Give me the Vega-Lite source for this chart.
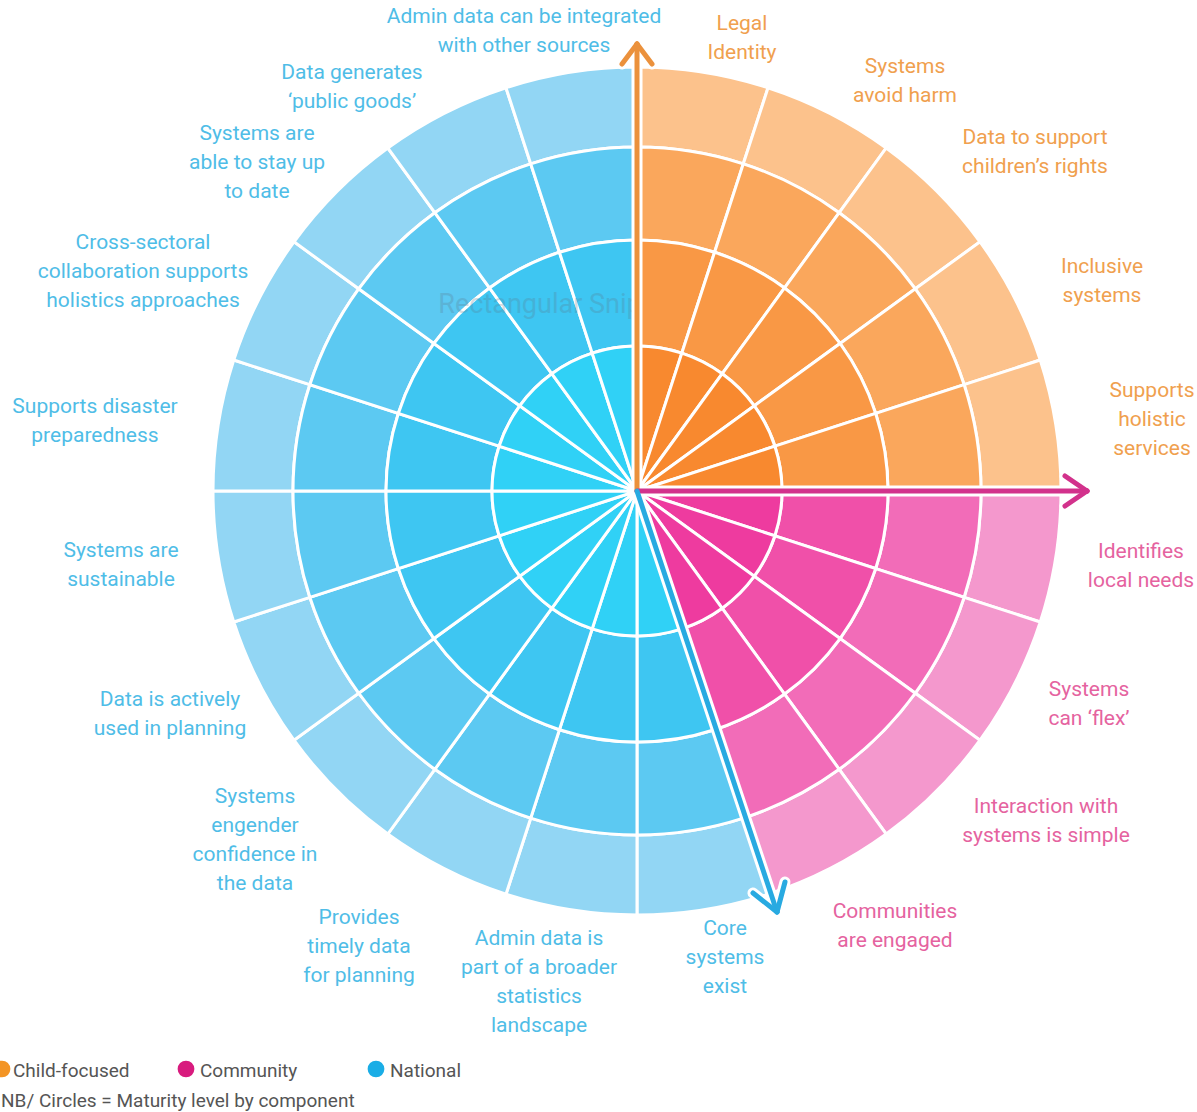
{
  "$schema": "https://vega.github.io/schema/vega-lite/v6.json",
  "width": 1120,
  "height": 982,
  "autosize": {"type": "none"},
  "padding": {"left": 77, "top": 0, "right": 0, "bottom": 130},
  "background": "white",
  "config": {"view": {"stroke": null}, "font": "Roboto"},
  "datasets": {
    "components": [
      {"k": 1, "component": "Legal Identity", "group": "Child-focused"},
      {"k": 2, "component": "Systems avoid harm", "group": "Child-focused"},
      {"k": 3, "component": "Data to support children’s rights", "group": "Child-focused"},
      {"k": 4, "component": "Inclusive systems", "group": "Child-focused"},
      {"k": 5, "component": "Supports holistic services", "group": "Child-focused"},
      {"k": 6, "component": "Identifies local needs", "group": "Community"},
      {"k": 7, "component": "Systems can ‘flex’", "group": "Community"},
      {"k": 8, "component": "Interaction with systems is simple", "group": "Community"},
      {"k": 9, "component": "Communities are engaged", "group": "Community"},
      {"k": 10, "component": "Core systems exist", "group": "National"},
      {"k": 11, "component": "Admin data is part of a broader statistics landscape", "group": "National"},
      {"k": 12, "component": "Provides timely data for planning", "group": "National"},
      {"k": 13, "component": "Systems engender confidence in the data", "group": "National"},
      {"k": 14, "component": "Data is actively used in planning", "group": "National"},
      {"k": 15, "component": "Systems are sustainable", "group": "National"},
      {"k": 16, "component": "Supports disaster preparedness", "group": "National"},
      {"k": 17, "component": "Cross-sectoral collaboration supports holistics approaches", "group": "National"},
      {"k": 18, "component": "Systems are able to stay up to date", "group": "National"},
      {"k": 19, "component": "Data generates ‘public goods’", "group": "National"},
      {"k": 20, "component": "Admin data can be integrated with other sources", "group": "National"}
    ],
    "labels": [
      {"label": "Legal\nIdentity", "group": "Child-focused", "x": 105, "y": 467},
      {"label": "Systems\navoid harm", "group": "Child-focused", "x": 268, "y": 424},
      {"label": "Data to support\nchildren’s rights", "group": "Child-focused", "x": 398, "y": 353},
      {"label": "Inclusive\nsystems", "group": "Child-focused", "x": 465, "y": 224},
      {"label": "Supports\nholistic\nservices", "group": "Child-focused", "x": 515, "y": 100},
      {"label": "Identifies\nlocal needs", "group": "Community", "x": 504, "y": -61},
      {"label": "Systems\ncan ‘flex’", "group": "Community", "x": 452, "y": -199},
      {"label": "Interaction with\nsystems is simple", "group": "Community", "x": 409, "y": -316},
      {"label": "Communities\nare engaged", "group": "Community", "x": 258, "y": -421},
      {"label": "Core\nsystems\nexist", "group": "National", "x": 88, "y": -438},
      {"label": "Admin data is\npart of a broader\nstatistics\nlandscape", "group": "National", "x": -98, "y": -448},
      {"label": "Provides\ntimely data\nfor planning", "group": "National", "x": -278, "y": -427},
      {"label": "Systems\nengender\nconfidence in\nthe data", "group": "National", "x": -382, "y": -306},
      {"label": "Data is actively\nused in planning", "group": "National", "x": -467, "y": -209},
      {"label": "Systems are\nsustainable", "group": "National", "x": -516, "y": -60},
      {"label": "Supports disaster\npreparedness", "group": "National", "x": -542, "y": 84},
      {"label": "Cross-sectoral\ncollaboration supports\nholistics approaches", "group": "National", "x": -494, "y": 248},
      {"label": "Systems are\nable to stay up\nto date", "group": "National", "x": -380, "y": 357},
      {"label": "Data generates\n‘public goods’", "group": "National", "x": -285, "y": 418},
      {"label": "Admin data can be integrated\nwith other sources", "group": "National", "x": -113, "y": 474}
    ],
    "arrows": [
      {"group": "Child-focused", "x": 0, "y": 0, "x2": 0, "y2": 447},
      {"group": "Child-focused", "x": 0, "y": 447, "x2": -15, "y2": 427},
      {"group": "Child-focused", "x": 0, "y": 447, "x2": 15, "y2": 427},
      {"group": "Community", "x": 0, "y": 0, "x2": 450, "y2": 0},
      {"group": "Community", "x": 450, "y": 0, "x2": 428, "y2": 15},
      {"group": "Community", "x": 450, "y": 0, "x2": 428, "y2": -15},
      {"group": "National", "x": 0, "y": 0, "x2": 140, "y2": -421},
      {"group": "National", "x": 140, "y": -421, "x2": 148, "y2": -391},
      {"group": "National", "x": 140, "y": -421, "x2": 116, "y2": -402}
    ],
    "legend": [
      {"group": "Child-focused", "text": "Child-focused", "px": -635, "py": -578, "x": -624, "y": -580},
      {"group": "Community", "text": "Community", "px": -451, "py": -578, "x": -437, "y": -580},
      {"group": "National", "text": "National", "px": -261, "py": -578, "x": -247, "y": -580}
    ],
    "notes": [
      {"text": "NB/ Circles = Maturity level by component", "x": -636, "y": -610}
    ],
    "watermark": [
      {"text": "Rectangular Snip", "x": -97, "y": 186}
    ]
  },
  "resolve": {"scale": {"color": "independent"}},
  "layer": [
    {
      "data": {"name": "components"},
      "mark": {"type": "arc", "radius": 424, "radius2": 344, "stroke": "white", "strokeWidth": 3},
      "encoding": {
        "theta": {"aggregate": "count", "type": "quantitative", "stack": true},
        "order": {"field": "k", "type": "quantitative"},
        "detail": {"field": "component", "type": "nominal"},
        "color": {"field": "group", "type": "nominal", "legend": null,
          "scale": {"domain": ["Child-focused", "Community", "National"], "range": ["#FCC28C", "#F498CD", "#92D6F4"]}}
      }
    },
    {
      "data": {"name": "components"},
      "mark": {"type": "arc", "radius": 344, "radius2": 251, "stroke": "white", "strokeWidth": 3},
      "encoding": {
        "theta": {"aggregate": "count", "type": "quantitative", "stack": true},
        "order": {"field": "k", "type": "quantitative"},
        "detail": {"field": "component", "type": "nominal"},
        "color": {"field": "group", "type": "nominal", "legend": null,
          "scale": {"domain": ["Child-focused", "Community", "National"], "range": ["#FAA75C", "#F26CB8", "#5CC9F2"]}}
      }
    },
    {
      "data": {"name": "components"},
      "mark": {"type": "arc", "radius": 251, "radius2": 145, "stroke": "white", "strokeWidth": 3},
      "encoding": {
        "theta": {"aggregate": "count", "type": "quantitative", "stack": true},
        "order": {"field": "k", "type": "quantitative"},
        "detail": {"field": "component", "type": "nominal"},
        "color": {"field": "group", "type": "nominal", "legend": null,
          "scale": {"domain": ["Child-focused", "Community", "National"], "range": ["#F99845", "#F050A9", "#3EC6F2"]}}
      }
    },
    {
      "data": {"name": "components"},
      "mark": {"type": "arc", "radius": 145, "radius2": 0, "stroke": "white", "strokeWidth": 3},
      "encoding": {
        "theta": {"aggregate": "count", "type": "quantitative", "stack": true},
        "order": {"field": "k", "type": "quantitative"},
        "detail": {"field": "component", "type": "nominal"},
        "color": {"field": "group", "type": "nominal", "legend": null,
          "scale": {"domain": ["Child-focused", "Community", "National"], "range": ["#F8892F", "#EE3B9F", "#30D1F6"]}}
      }
    },
    {
      "data": {"name": "watermark"},
      "mark": {"type": "text", "fontSize": 27, "align": "center", "baseline": "middle", "color": "#5a7486", "opacity": 0.25},
      "encoding": {
        "x": {"field": "x", "type": "quantitative", "scale": {"domain": [-560, 560], "nice": false, "zero": false}, "axis": null},
        "y": {"field": "y", "type": "quantitative", "scale": {"domain": [-491, 491], "nice": false, "zero": false}, "axis": null},
        "text": {"field": "text"}
      }
    },
    {
      "data": {"name": "arrows"},
      "mark": {"type": "rule", "color": "white", "strokeWidth": 11, "strokeCap": "round"},
      "encoding": {
        "x": {"field": "x", "type": "quantitative"},
        "y": {"field": "y", "type": "quantitative"},
        "x2": {"field": "x2"},
        "y2": {"field": "y2"}
      }
    },
    {
      "data": {"name": "arrows"},
      "mark": {"type": "rule", "strokeWidth": 5, "strokeCap": "round"},
      "encoding": {
        "x": {"field": "x", "type": "quantitative"},
        "y": {"field": "y", "type": "quantitative"},
        "x2": {"field": "x2"},
        "y2": {"field": "y2"},
        "color": {"field": "group", "type": "nominal", "legend": null,
          "scale": {"domain": ["Child-focused", "Community", "National"], "range": ["#EB913C", "#D2328C", "#28AAE1"]}}
      }
    },
    {
      "data": {"name": "labels"},
      "mark": {"type": "text", "fontSize": 21, "lineBreak": "\n", "lineHeight": 29, "align": "center", "baseline": "middle"},
      "encoding": {
        "x": {"field": "x", "type": "quantitative"},
        "y": {"field": "y", "type": "quantitative"},
        "text": {"field": "label"},
        "color": {"field": "group", "type": "nominal", "legend": null,
          "scale": {"domain": ["Child-focused", "Community", "National"], "range": ["#F0A04E", "#E5639F", "#4FBDE7"]}}
      }
    },
    {
      "data": {"name": "legend"},
      "mark": {"type": "point", "shape": "circle", "filled": true, "size": 280, "opacity": 1},
      "encoding": {
        "x": {"field": "px", "type": "quantitative"},
        "y": {"field": "py", "type": "quantitative"},
        "color": {"field": "group", "type": "nominal", "legend": null,
          "scale": {"domain": ["Child-focused", "Community", "National"], "range": ["#F39424", "#D81B7E", "#1AADE6"]}}
      }
    },
    {
      "data": {"name": "legend"},
      "mark": {"type": "text", "fontSize": 19, "align": "left", "baseline": "middle", "color": "#555555"},
      "encoding": {
        "x": {"field": "x", "type": "quantitative"},
        "y": {"field": "y", "type": "quantitative"},
        "text": {"field": "text"}
      }
    },
    {
      "data": {"name": "notes"},
      "mark": {"type": "text", "fontSize": 19, "align": "left", "baseline": "middle", "color": "#555555"},
      "encoding": {
        "x": {"field": "x", "type": "quantitative"},
        "y": {"field": "y", "type": "quantitative"},
        "text": {"field": "text"}
      }
    }
  ]
}
